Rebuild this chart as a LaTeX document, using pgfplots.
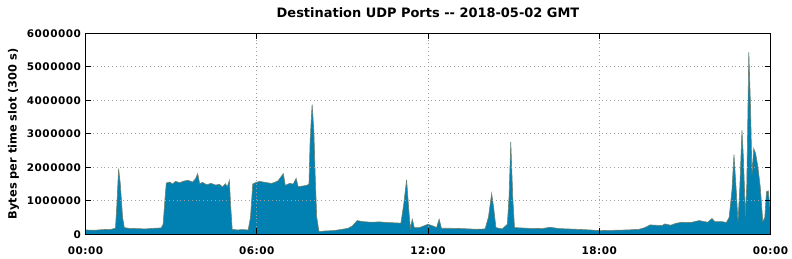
\documentclass[border=0pt]{standalone}
\usepackage{pgfplots}
\pgfplotsset{compat=1.18}
\usepackage{fontspec}
\setmainfont{DejaVu Sans}
\newfontfamily\tickfont[LetterSpace=5]{DejaVu Sans}
\definecolor{areablue}{RGB}{0,129,178}
\definecolor{edgec}{RGB}{110,130,110}
\definecolor{gridc}{RGB}{160,160,160}
\begin{document}
\begin{tikzpicture}
\useasboundingbox (-85.5bp,-24.7bp) rectangle (706.5bp,234.3bp);
\begin{axis}[
  at={(0,0)}, anchor=south west,
  scale only axis, width=685bp, height=201bp,
  xmin=0, xmax=24, ymin=0, ymax=6000000,
  xtick={0,6,12,18,24},
  xticklabels={00:00,06:00,12:00,18:00,00:00},
  ytick={0,1000000,2000000,3000000,4000000,5000000,6000000},
  yticklabels={0,1000000,2000000,3000000,4000000,5000000,6000000},
  scaled y ticks=false,
  tick align=inside, major tick length=6bp,
  tick style={black, line width=0.8bp},
  xtick pos=both, ytick pos=both,
  axis line style={black, line width=1bp},
  grid=major,
  major grid style={gridc, line width=0.7bp, dash pattern=on 0.8bp off 3bp},
  tick label style={font=\tickfont\fontsize{10.5}{12}\selectfont\bfseries},
  xticklabel style={yshift=-9bp},
  yticklabel style={xshift=-1bp},
  ylabel={Bytes per time slot (300 s)},
  ylabel style={font=\fontsize{11.4}{13}\selectfont\bfseries, at={(-72bp,100.5bp)}, anchor=center},
  title={Destination UDP Ports -{}- 2018-05-02 GMT},
  title style={font=\fontsize{13}{15}\selectfont\bfseries, at={(0.5,1)}, anchor=base, yshift=10bp},
  axis on top,
]
\addplot[fill=areablue, draw=edgec, line width=0.6bp] table {
t v
0.0 130000
0.3 120000
0.6 140000
0.9 150000
1.05 180000
1.10 900000
1.16 1960000
1.22 1500000
1.30 500000
1.36 200000
1.5 180000
1.8 170000
2.1 160000
2.4 180000
2.65 190000
2.72 300000
2.78 1000000
2.83 1530000
2.95 1560000
3.05 1500000
3.15 1580000
3.3 1540000
3.45 1590000
3.6 1610000
3.75 1560000
3.85 1650000
3.93 1810000
4.0 1510000
4.1 1550000
4.25 1480000
4.4 1520000
4.55 1470000
4.7 1490000
4.8 1410000
4.9 1510000
4.97 1420000
5.04 1610000
5.09 800000
5.14 150000
5.3 130000
5.5 140000
5.7 130000
5.78 500000
5.86 1500000
5.95 1540000
6.1 1580000
6.3 1550000
6.5 1520000
6.6 1540000
6.75 1600000
6.93 1810000
7.0 1460000
7.15 1520000
7.28 1500000
7.38 1670000
7.45 1420000
7.6 1440000
7.75 1460000
7.83 1500000
7.87 2800000
7.94 3880000
8.0 3100000
8.05 1700000
8.1 520000
8.18 80000
8.4 100000
8.7 110000
9.0 150000
9.2 180000
9.35 250000
9.52 410000
9.7 380000
10.0 360000
10.3 370000
10.6 350000
10.9 340000
11.05 330000
11.15 900000
11.25 1630000
11.33 700000
11.38 180000
11.45 450000
11.52 200000
11.7 200000
12.0 300000
12.2 240000
12.3 200000
12.39 450000
12.47 180000
12.8 180000
13.2 170000
13.7 150000
14.0 160000
14.12 520000
14.23 1220000
14.3 800000
14.38 200000
14.6 160000
14.78 300000
14.84 1120000
14.9 2750000
14.97 1100000
15.03 200000
15.5 180000
16.0 170000
16.27 210000
16.6 170000
17.2 150000
17.68 130000
18.0 110000
18.5 120000
19.0 130000
19.4 150000
19.6 200000
19.78 280000
20.2 260000
20.3 310000
20.5 270000
20.7 330000
20.9 360000
21.2 350000
21.5 410000
21.8 360000
21.95 470000
22.05 380000
22.3 380000
22.45 350000
22.55 500000
22.65 1320000
22.72 2380000
22.80 1300000
22.86 380000
22.92 1300000
23.0 3100000
23.05 2300000
23.12 530000
23.17 1500000
23.24 5440000
23.30 3800000
23.35 1770000
23.41 2560000
23.48 2410000
23.56 2000000
23.64 1420000
23.73 380000
23.8 500000
23.86 1270000
23.92 1300000
24.0 630000
} \closedcycle;
\end{axis}
\end{tikzpicture}
\end{document}
